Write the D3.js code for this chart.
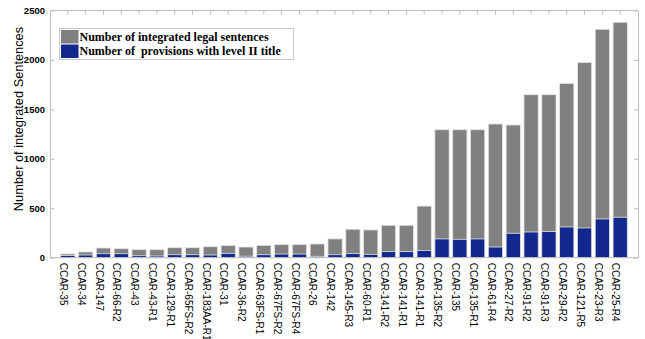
<!DOCTYPE html>
<html>
<head>
<meta charset="utf-8">
<script src="https://cdn.jsdelivr.net/npm/d3@7"></script>
<style>
  html, body { margin: 0; padding: 0; background: #fff; }
  svg { display: block; }
</style>
</head>
<body>
<svg id="chart" width="645" height="339"></svg>
<script>
// Regulation identifiers along the x axis
const categories = [
  "CCAR-35", "CCAR-34", "CCAR-147", "CCAR-66-R2", "CCAR-43", "CCAR-43-R1",
  "CCAR-129-R1", "CCAR-65FS-R2", "CCAR-183AA-R1", "CCAR-31", "CCAR-36-R2",
  "CCAR-63FS-R1", "CCAR-67FS-R2", "CCAR-67FS-R4", "CCAR-26", "CCAR-142",
  "CCAR-145-R3", "CCAR-60-R1", "CCAR-141-R2", "CCAR-141-R1", "CCAR-141-R1",
  "CCAR-135-R2", "CCAR-135", "CCAR-135-R1", "CCAR-61-R4", "CCAR-27-R2",
  "CCAR-91-R2", "CCAR-91-R3", "CCAR-29-R2", "CCAR-121-R5", "CCAR-23-R3", "CCAR-25-R4"
];

// Number of integrated legal sentences per regulation
const sentences = [
  38, 58, 98, 91, 81, 81, 101, 101, 111, 122, 108,
  125, 132, 132, 139, 190, 288, 281, 328, 328, 522,
  1294, 1294, 1294, 1352, 1342, 1648, 1648, 1763, 1973, 2310, 2381
];

// Number of provisions with a level II title per regulation
const provisions = [
  22, 27, 40, 40, 20, 17, 30, 30, 27, 44, 15,
  30, 37, 37, 14, 30, 41, 34, 61, 61, 73,
  190, 186, 190, 108, 247, 260, 264, 311, 301, 392, 409
];

const yTicks = [0, 500, 1000, 1500, 2000, 2500];

const seriesNames = [
  "Number of integrated legal sentences",
  "Number of  provisions with level II title"
];
const seriesColors = ["#808080", "#13288c"];

const svg = d3.select("#chart");
const plotLeft = 50, plotRight = 638, plotTop = 10.5, plotBottom = 257.7;
const axisColor = "#bdbdbd";

const x = d3.scaleBand()
  .domain(d3.range(categories.length))
  .range([plotLeft, plotRight])
  .paddingInner(0.2)
  .paddingOuter(0.6);

const y = d3.scaleLinear().domain([0, 2500]).range([plotBottom, plotTop]);

// Bars: total sentences behind, provisions in front
const barG = svg.append("g");
barG.selectAll("rect.total")
  .data(sentences)
  .join("rect")
  .attr("class", "total")
  .attr("x", (d, i) => x(i))
  .attr("width", x.bandwidth())
  .attr("y", d => y(d))
  .attr("height", d => y(0) - y(d))
  .attr("fill", seriesColors[0])
  .attr("stroke", "#e4e4e4")
  .attr("stroke-width", 0.8);

barG.selectAll("rect.prov")
  .data(provisions)
  .join("rect")
  .attr("class", "prov")
  .attr("x", (d, i) => x(i))
  .attr("width", x.bandwidth())
  .attr("y", d => y(d))
  .attr("height", d => y(0) - y(d))
  .attr("fill", seriesColors[1])
  .attr("stroke", "#e4e4e4")
  .attr("stroke-width", 0.8);

const styleAxis = g => {
  g.selectAll(".domain").attr("stroke", axisColor);
  g.selectAll(".tick line").attr("stroke", axisColor);
};

const centers = d3.range(categories.length);

// Left axis with inward ticks
svg.append("g")
  .attr("transform", `translate(${plotLeft},0)`)
  .call(d3.axisLeft(y).tickValues(yTicks).tickFormat(d3.format("d"))
    .tickSizeInner(-4).tickSizeOuter(0).tickPadding(5))
  .call(styleAxis)
  .call(g => g.selectAll("text")
    .attr("fill", "#000")
    .style("font-family", "'Liberation Sans', Arial, sans-serif")
    .style("font-size", "9.5px")
    .style("font-weight", "bold"));

// Right axis
svg.append("g")
  .attr("transform", `translate(${plotRight},0)`)
  .call(d3.axisRight(y).tickValues(yTicks).tickSizeInner(-4).tickSizeOuter(0).tickFormat(""))
  .call(styleAxis);

// Top axis
svg.append("g")
  .attr("transform", `translate(0,${plotTop})`)
  .call(d3.axisTop(x).tickValues(centers).tickSizeInner(-4).tickSizeOuter(0).tickFormat(""))
  .call(g => g.select(".domain").attr("d", `M${plotLeft},0H${plotRight}`))
  .call(styleAxis);

// Bottom axis with rotated labels
svg.append("g")
  .attr("transform", `translate(0,${plotBottom})`)
  .call(d3.axisBottom(x).tickValues(centers).tickSizeInner(0).tickSizeOuter(0).tickFormat(i => categories[i]))
  .call(g => g.select(".domain").attr("d", `M${plotLeft},0H${plotRight}`))
  .call(styleAxis)
  .call(g => g.selectAll("text")
    .attr("transform", "rotate(90)")
    .attr("x", 5)
    .attr("y", 0)
    .attr("dy", "0.78em")
    .style("text-anchor", "start")
    .attr("fill", "#000")
    .style("font-family", "'Liberation Sans', Arial, sans-serif")
    .style("font-size", "10px"));

// Y axis title
svg.append("text")
  .attr("transform", `translate(23,119) rotate(-90)`)
  .attr("text-anchor", "middle")
  .style("font-family", "'Liberation Sans', Arial, sans-serif")
  .style("font-size", "12.8px")
  .attr("fill", "#000")
  .text("Number of integrated Sentences");

// Legend
const lg = svg.append("g");
lg.append("rect")
  .attr("x", 59.5).attr("y", 28.5).attr("width", 234).attr("height", 31)
  .attr("fill", "#fff").attr("stroke", "#c8c8c8");
seriesNames.forEach((name, i) => {
  lg.append("rect")
    .attr("x", 61).attr("y", 30 + i * 14.5).attr("width", 17.5).attr("height", 13.5)
    .attr("fill", seriesColors[i]);
  lg.append("text")
    .attr("x", 79.5).attr("y", 40.5 + i * 14.5)
    .style("font-family", "'Liberation Serif', 'Times New Roman', serif")
    .style("font-weight", "bold")
    .style("font-size", "12px")
    .style("white-space", "pre")
    .attr("fill", "#000")
    .text(name);
});
</script>
</body>
</html>
